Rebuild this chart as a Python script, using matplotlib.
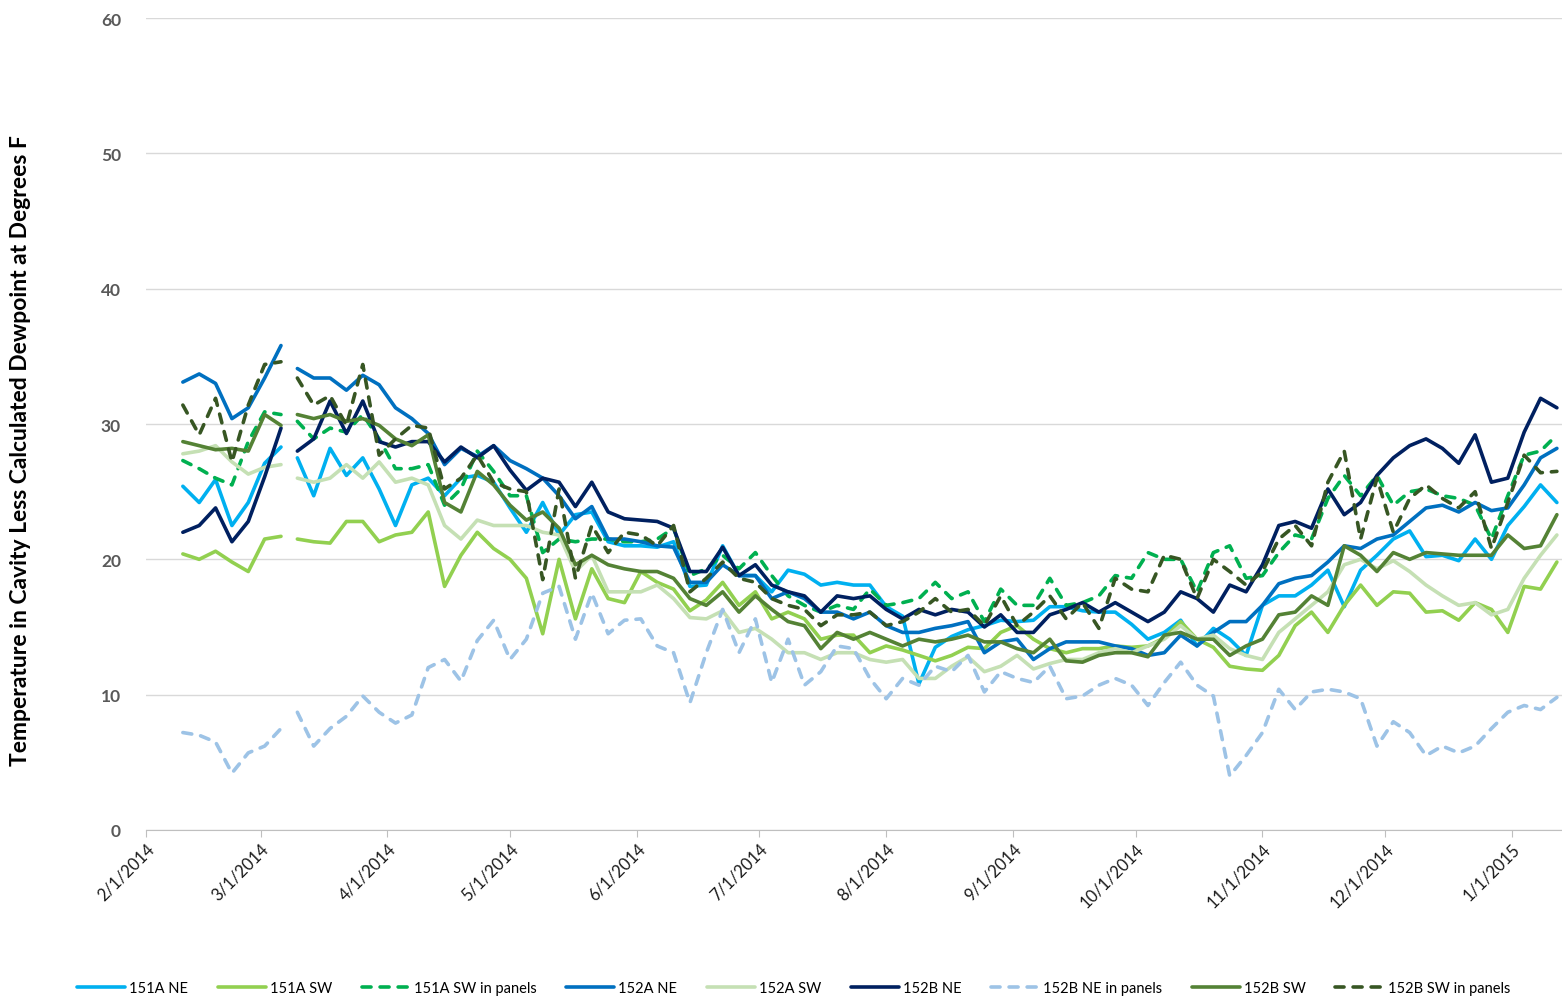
import numpy as np
import pandas as pd
import matplotlib
matplotlib.use("Agg")
import matplotlib.pyplot as plt
import matplotlib.dates as mdates

plt.rcParams['font.family'] = ['Lato', 'DejaVu Sans']

# samples every 4 days from 2/10/2014; gap in the logger data between 3/6 and 3/10
dates = pd.date_range('2014-02-10', periods=85, freq='4D')
GAP = 7

a151_ne = [25.4, 24.2, 25.9, 22.5, 24.2, 27.1, 28.3,
           27.5, 24.7, 28.2, 26.2, 27.5, 25.2, 22.5, 25.5, 26.0, 24.7, 26.0, 26.2, 25.7, 23.8, 22.0, 24.2, 21.8, 23.3, 23.5, 21.3, 21.0,
           21.0, 20.9, 21.3, 18.0, 18.1, 21.0, 18.8, 18.8, 17.6, 19.2, 18.9, 18.1, 18.3, 18.1, 18.1, 16.5,
           15.8, 10.8, 13.5, 14.3, 14.8, 15.1, 15.5, 15.4, 15.5, 16.5, 16.5, 16.2, 16.1, 16.1, 15.2,
           14.1, 14.6, 15.5, 13.6, 14.9, 14.1, 12.9, 16.6, 17.3, 17.3, 18.1, 19.2, 16.5,
           19.2, 20.3, 21.5, 22.1, 20.2, 20.3, 19.9, 21.5, 20.0, 22.5, 23.9, 25.5, 24.2]
a151_sw = [20.4, 20.0, 20.6, 19.8, 19.1, 21.5, 21.7,
           21.5, 21.3, 21.2, 22.8, 22.8, 21.3, 21.8, 22.0, 23.5, 18.0, 20.3, 22.0, 20.8, 20.0, 18.6, 14.5, 20.0, 15.6, 19.3, 17.1, 16.8,
           19.1, 18.3, 17.8, 16.2, 17.0, 18.3, 16.6, 17.6, 15.6, 16.1, 15.6, 14.1, 14.4, 14.4, 13.1, 13.6,
           13.3, 12.9, 12.5, 12.9, 13.5, 13.4, 14.6, 15.1, 14.1, 13.4, 13.1, 13.4, 13.4, 13.6, 13.5,
           13.6, 14.2, 15.4, 14.1, 13.5, 12.1, 11.9, 11.8, 12.9, 15.1, 16.1, 14.6, 16.6,
           18.1, 16.6, 17.6, 17.5, 16.1, 16.2, 15.5, 16.8, 16.3, 14.6, 18.0, 17.8, 19.8]
a151_sw_pan = [27.3, 26.7, 26.0, 25.5, 28.7, 30.9, 30.7,
               30.2, 28.9, 29.7, 29.4, 30.7, 28.9, 26.7, 26.7, 27.0, 24.0, 25.2, 28.0, 26.5, 24.7, 24.7, 20.5, 21.5, 21.3, 21.5, 21.5, 21.3,
               21.3, 21.5, 22.3, 18.8, 19.3, 20.3, 19.3, 20.5, 18.8, 17.3, 16.6, 16.1, 16.6, 16.3, 17.8, 16.6,
               16.8, 17.1, 18.3, 17.1, 17.6, 15.4, 17.8, 16.6, 16.6, 18.6, 16.6, 16.8, 17.3, 18.8, 18.6,
               20.5, 20.0, 20.0, 17.6, 20.5, 21.0, 18.6, 18.8, 20.5, 21.8, 21.5, 24.5, 26.2,
               24.7, 26.2, 24.0, 25.0, 25.2, 24.7, 24.5, 24.0, 21.5, 24.7, 27.7, 28.0, 29.2]
a152_ne = [33.1, 33.7, 33.0, 30.4, 31.2, 33.4, 35.8,
           34.1, 33.4, 33.4, 32.5, 33.6, 32.9, 31.2, 30.4, 29.3, 27.0, 28.2, 27.6, 28.4, 27.3, 26.7, 26.0, 24.7, 23.0, 23.9, 21.5, 21.5,
           21.3, 21.0, 20.9, 18.3, 18.3, 19.6, 18.8, 18.8, 17.1, 17.6, 17.1, 16.1, 16.1, 15.6, 16.1, 15.1,
           14.6, 14.6, 14.9, 15.1, 15.4, 13.1, 13.9, 14.1, 12.6, 13.4, 13.9, 13.9, 13.9, 13.6, 13.4,
           12.9, 13.1, 14.4, 13.6, 14.6, 15.4, 15.4, 16.6, 18.2, 18.6, 18.8, 19.8, 21.0,
           20.8, 21.5, 21.8, 22.8, 23.8, 24.0, 23.5, 24.2, 23.6, 23.8, 25.5, 27.5, 28.2]
a152_sw = [27.8, 28.0, 28.4, 27.2, 26.3, 26.8, 27.0,
           26.0, 25.7, 26.0, 27.0, 26.0, 27.2, 25.7, 26.0, 25.5, 22.5, 21.5, 22.9, 22.5, 22.5, 22.5, 22.0, 21.8, 19.1, 20.3, 17.6, 17.6,
           17.6, 18.1, 17.1, 15.7, 15.6, 16.2, 14.6, 14.9, 14.1, 13.1, 13.1, 12.6, 13.1, 13.1, 12.6, 12.4,
           12.6, 11.2, 11.2, 12.1, 12.8, 11.7, 12.1, 12.9, 11.9, 12.3, 12.6, 12.6, 13.1, 13.4, 13.1,
           13.6, 14.1, 15.1, 14.1, 14.4, 13.4, 12.9, 12.6, 14.6, 15.6, 16.6, 17.6, 19.6,
           20.0, 19.3, 19.9, 19.1, 18.1, 17.3, 16.6, 16.8, 15.9, 16.3, 18.6, 20.3, 21.8]
b152_ne = [22.0, 22.5, 23.8, 21.3, 22.8, 26.1, 29.7,
           28.0, 28.9, 31.7, 29.3, 31.7, 28.7, 28.3, 28.7, 28.7, 27.2, 28.3, 27.5, 28.4, 26.6, 25.1, 26.0, 25.7, 23.9, 25.7, 23.5, 23.0,
           22.9, 22.8, 22.3, 19.1, 19.1, 20.9, 18.8, 19.6, 18.1, 17.6, 17.3, 16.1, 17.3, 17.1, 17.3, 16.3,
           15.6, 16.3, 15.9, 16.3, 16.1, 15.0, 15.9, 14.6, 14.6, 15.9, 16.3, 16.8, 16.1, 16.8, 16.1,
           15.4, 16.1, 17.6, 17.1, 16.1, 18.1, 17.6, 19.6, 22.5, 22.8, 22.3, 25.2, 23.3,
           24.2, 26.2, 27.5, 28.4, 28.9, 28.2, 27.1, 29.2, 25.7, 26.0, 29.4, 31.9, 31.2]
b152_ne_pan = [7.2, 7.0, 6.5, 4.2, 5.7, 6.2, 7.5,
               8.7, 6.2, 7.5, 8.4, 9.9, 8.7, 7.9, 8.5, 12.0, 12.6, 11.0, 14.0, 15.5, 12.6, 14.1, 17.5, 18.0, 14.1, 17.5, 14.5, 15.5,
               15.6, 13.6, 13.1, 9.4, 13.1, 16.3, 13.1, 15.6, 10.9, 14.1, 10.7, 11.7, 13.6, 13.4, 11.2, 9.7,
               11.2, 10.7, 12.1, 11.7, 12.9, 10.2, 11.7, 11.2, 10.9, 12.1, 9.7, 9.9, 10.7, 11.2, 10.7,
               9.2, 10.9, 12.4, 10.7, 9.9, 4.0, 5.5, 7.2, 10.4, 8.9, 10.2, 10.4, 10.2,
               9.7, 6.2, 8.0, 7.2, 5.5, 6.2, 5.7, 6.2, 7.5, 8.7, 9.2, 8.9, 9.8]
b152_sw = [28.7, 28.4, 28.1, 28.2, 28.0, 30.7, 29.9,
           30.7, 30.4, 30.7, 30.2, 30.4, 29.9, 28.9, 28.4, 29.2, 24.2, 23.5, 26.5, 25.5, 24.0, 22.9, 23.5, 22.3, 19.6, 20.3, 19.6, 19.3,
           19.1, 19.1, 18.6, 17.1, 16.6, 17.6, 16.1, 17.3, 16.3, 15.4, 15.1, 13.4, 14.6, 14.1, 14.6, 14.1,
           13.6, 14.1, 13.9, 14.1, 14.4, 13.9, 13.9, 13.4, 13.1, 14.1, 12.5, 12.4, 12.9, 13.1, 13.1,
           12.8, 14.4, 14.6, 14.1, 14.1, 12.9, 13.6, 14.1, 15.9, 16.1, 17.3, 16.6, 21.0,
           20.3, 19.1, 20.5, 20.0, 20.5, 20.4, 20.3, 20.3, 20.3, 21.8, 20.8, 21.0, 23.3]
b152_sw_pan = [31.4, 29.2, 31.9, 27.2, 31.4, 34.4, 34.6,
               33.4, 31.4, 32.1, 29.9, 34.4, 27.7, 28.9, 29.9, 29.7, 25.2, 26.0, 27.7, 25.7, 25.2, 25.0, 18.5, 25.2, 18.6, 22.5, 20.5, 22.0,
               21.8, 21.0, 22.5, 17.6, 18.6, 19.8, 18.6, 18.3, 17.1, 16.6, 16.3, 15.1, 15.9, 15.9, 16.1, 15.1,
               15.4, 16.1, 17.1, 16.1, 16.3, 15.1, 17.3, 15.1, 16.1, 17.3, 15.6, 16.8, 14.9, 18.6, 17.8,
               17.6, 20.3, 20.0, 17.1, 20.0, 19.1, 18.1, 19.1, 21.5, 22.5, 21.0, 25.7, 28.0,
               21.5, 26.0, 22.0, 24.5, 25.5, 24.5, 23.8, 25.0, 20.8, 24.2, 27.7, 26.4, 26.5]

series = [
    ("151A NE", a151_ne, "#00B0F0", False),
    ("151A SW", a151_sw, "#92D050", False),
    ("151A SW in panels", a151_sw_pan, "#00B050", True),
    ("152A NE", a152_ne, "#0070C0", False),
    ("152A SW", a152_sw, "#C5E0B4", False),
    ("152B NE", b152_ne, "#002060", False),
    ("152B NE in panels", b152_ne_pan, "#9DC3E6", True),
    ("152B SW", b152_sw, "#548235", False),
    ("152B SW in panels", b152_sw_pan, "#375623", True),
]

fig = plt.figure(figsize=(15.62, 10.03), dpi=100)
ax = fig.add_axes([0.0935, 0.1715, 0.9065, 0.8095])

for name, vals, col, dashed in series:
    v = np.array(vals)
    kw = dict(color=col, lw=2.6, solid_capstyle='round', dash_capstyle='round')
    if dashed:
        kw['dashes'] = (2.5, 2.5)
    ax.plot(dates[:GAP], v[:GAP], label=name, **kw)
    ax.plot(dates[GAP:], v[GAP:], **kw)

ax.set_ylim(0, 60)
ax.set_yticks(range(0, 61, 10))
ax.set_xlim(pd.Timestamp('2014-02-01'), pd.Timestamp('2015-01-13 06:00'))
ax.xaxis.set_major_locator(mdates.MonthLocator())
ax.xaxis.set_major_formatter(mdates.DateFormatter('%-m/%-d/%Y'))

ax.grid(axis='y', color='#D9D9D9', lw=1)
ax.set_axisbelow(True)
for s in ['left', 'right', 'top']:
    ax.spines[s].set_visible(False)
ax.spines['bottom'].set_color('#BFBFBF')
ax.tick_params(axis='y', length=0, pad=18, labelsize=12.5, labelcolor='#595959')
ax.tick_params(axis='x', length=5, color='#BFBFBF', labelsize=12, labelcolor='#1a1a1a', pad=2)
for lab in ax.get_yticklabels():
    lab.set_fontweight('bold')
for lab in ax.get_xticklabels():
    lab.set_rotation(45)
    lab.set_ha('right')
    lab.set_va('top')
    lab.set_rotation_mode('anchor')

ax.set_ylabel('Temperature in Cavity Less Calculated Dewpoint at Degrees F',
              fontsize=16.5, fontweight='bold', color='black')
ax.yaxis.set_label_coords(-0.081, 0.469)

fig.legend(loc='lower center', ncol=9, frameon=False, fontsize=10.5,
           handlelength=3.3, handletextpad=0.3, columnspacing=2.0,
           bbox_to_anchor=(0.508, -0.006))

fig.savefig('out.png', dpi=100)
